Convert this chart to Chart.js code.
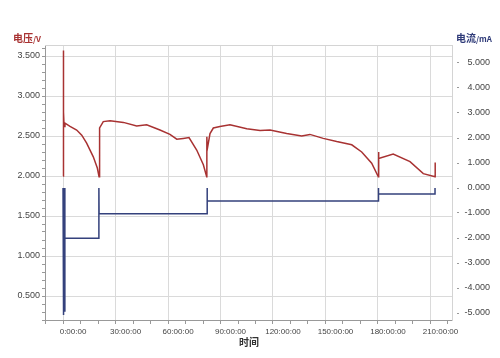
<!DOCTYPE html>
<html>
<head>
<meta charset="utf-8">
<script src="https://cdn.jsdelivr.net/npm/chart.js@4.4.1/dist/chart.umd.min.js"></script>
<style>
  body { margin: 0; background: #fff; }
  #wrap { position: relative; width: 500px; height: 358px; }
  .axisTitle { position: absolute; font-family: "Noto Sans CJK SC", sans-serif; font-size: 10px; font-weight: bold; line-height: 10px; white-space: nowrap; }
  .axisTitle small { font-size: 8px; }
</style>
</head>
<body>
<div id="wrap">
  <canvas id="chart" width="500" height="358"></canvas>
  <div class="axisTitle" style="left:13px; top:33px; color:#a83232;">电压<small>/V</small></div>
  <div class="axisTitle" style="left:456px; top:33px; color:#2e3a78;">电流<small>/mA</small></div>
  <div class="axisTitle" style="left:239px; top:337px; color:#333;">时间</div>
</div>
<script>
'use strict';

// voltage trace (hours, volts)
const voltHours = [0, 0.1, 0.3, 0.4, 0.6, 1.1, 4, 7.8, 10.7, 13.5, 17.3, 19.6, 20.6, 20.7, 20.9, 21.1, 23, 26.9,
  34.5, 42.1, 47.8, 55.4, 61.1, 65, 68.7, 72, 76.4, 80.2, 82.1, 82.2, 82.4, 84, 85.9, 89.7, 95.4, 105, 112.6,
  118.3, 127.8, 136.4, 141.1, 148.7, 156.4, 165, 170.7, 176.4, 180.2, 180.3, 180.5, 188.7, 198.3, 205.9, 212.6, 212.7];
const voltValues = [2.0, 3.57, 2.0, 2.8, 2.62, 2.66, 2.62, 2.575, 2.51, 2.41, 2.24, 2.10, 1.99, 2.49, 2.38, 2.6, 2.68, 2.69,
  2.67, 2.625, 2.64, 2.575, 2.52, 2.46, 2.47, 2.48, 2.325, 2.14, 1.99, 2.49, 2.33, 2.53, 2.6, 2.62, 2.64, 2.59, 2.57,
  2.575, 2.53, 2.5, 2.52, 2.47, 2.43, 2.39, 2.30, 2.16, 1.99, 2.30, 2.22, 2.275, 2.18, 2.03, 1.99, 2.17];

// current trace (hours, mA)
const currHours = [0, 0.3, 0.6, 1.0, 1.1, 20.5, 20.5, 20.6, 82.3, 82.3, 82.5, 180.2, 180.2, 180.4, 212.6, 212.6];
const currValues = [0, -5.08, 0, -4.95, -2.01, -2.01, 0, -1.03, -1.03, 0, -0.52, -0.52, 0, -0.24, -0.24, 0];

const labelEvery = 30; // hours between labelled x ticks
const currentTicks = [-5, -4, -3, -2, -1, 0, 1, 2, 3, 4, 5];

const toPoints = (xs, ys) => xs.map((x, i) => ({ x, y: ys[i] }));

const frame = {
  id: 'frame',
  afterDraw(chart) {
    const { ctx, chartArea: a } = chart;
    ctx.save();
    ctx.strokeStyle = '#d4d4d4';
    ctx.lineWidth = 1;
    ctx.beginPath();
    ctx.moveTo(a.left, a.top + 0.5);
    ctx.lineTo(a.right, a.top + 0.5);
    ctx.stroke();
    ctx.restore();
  },
};

Chart.defaults.font.family = '"Liberation Sans", Arial, sans-serif';
Chart.defaults.color = '#444';

new Chart(document.getElementById('chart'), {
  type: 'line',
  data: {
    datasets: [
      { label: '电压', data: toPoints(voltHours, voltValues), yAxisID: 'y', borderColor: '#a83232', borderWidth: 1.5, pointRadius: 0, tension: 0 },
      { label: '电流', data: toPoints(currHours, currValues), yAxisID: 'y1', borderColor: '#34417c', borderWidth: 1.5, pointRadius: 0, tension: 0 },
    ],
  },
  options: {
    responsive: false,
    animation: false,
    layout: { padding: { top: 45, left: 0, right: 10, bottom: 0 } },
    plugins: { legend: { display: false }, tooltip: { enabled: false } },
    scales: {
      x: {
        type: 'linear',
        min: -10.3,
        max: 222.3,
        afterFit: (s) => { s.height = 38; },
        border: { color: '#999' },
        grid: {
          color: (c) => (c.tick && c.tick.value % labelEvery === 0 ? '#dadada' : 'transparent'),
          tickColor: '#999',
          tickLength: 4,
        },
        ticks: {
          stepSize: 10,
          autoSkip: false,
          maxRotation: 0,
          includeBounds: false,
          labelOffset: 10,
          padding: 3,
          font: { size: 8 },
          callback: (v) => (v % labelEvery === 0 ? v + ':00:00' : ''),
        },
      },
      y: {
        position: 'left',
        min: 0.2,
        max: 3.6375,
        afterFit: (s) => { s.width = 45; },
        border: { color: '#999' },
        grid: {
          color: (c) => (c.tick && Math.round(c.tick.value * 10) % 5 === 0 ? '#dadada' : 'transparent'),
          tickColor: '#999',
          tickLength: 3,
        },
        ticks: {
          stepSize: 0.1,
          autoSkip: false,
          includeBounds: false,
          padding: 2,
          font: { size: 9 },
          callback: (v) => (Math.round(v * 10) % 5 === 0 ? v.toFixed(3) : ''),
        },
      },
      y1: {
        position: 'right',
        min: -5.28,
        max: 5.72,
        afterFit: (s) => { s.width = 38; },
        afterBuildTicks: (s) => { s.ticks = currentTicks.map((value) => ({ value })); },
        border: { color: '#d4d4d4' },
        grid: {
          drawOnChartArea: false,
          tickColor: '#999',
          tickLength: 7,
          tickBorderDash: [0, 4, 3, 10],
        },
        ticks: {
          autoSkip: false,
          crossAlign: 'far',
          padding: 4,
          font: { size: 9 },
          callback: (v) => v.toFixed(3),
        },
      },
    },
  },
  plugins: [frame],
});
</script>
</body>
</html>
